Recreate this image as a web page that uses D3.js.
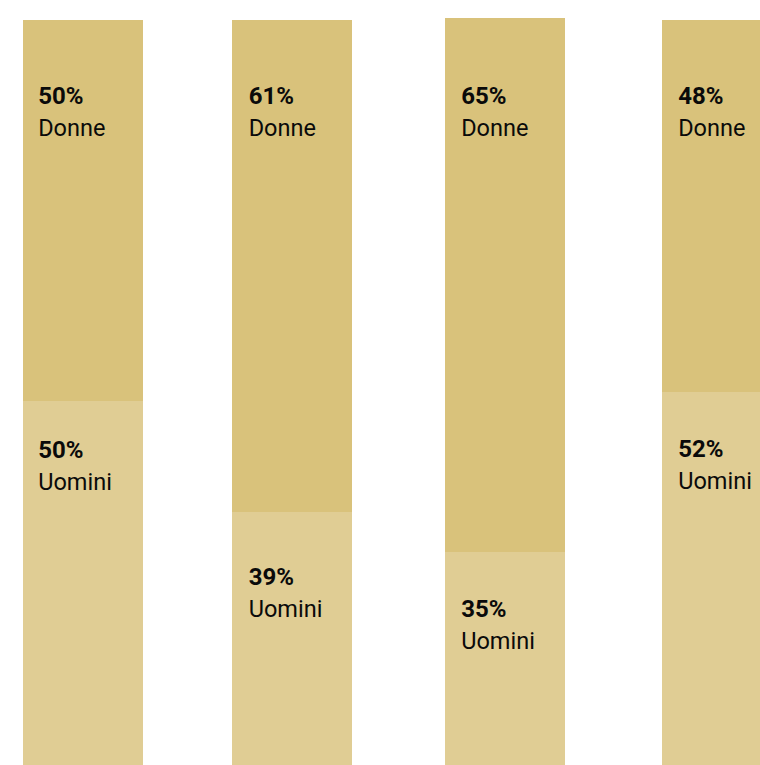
<!DOCTYPE html>
<html>
<head>
<meta charset="utf-8">
<script src="https://cdn.jsdelivr.net/npm/d3@7"></script>
<style>
  html, body { margin: 0; padding: 0; background: #ffffff; }
  svg { display: block; }
  text { font-family: Roboto, "Noto Sans", sans-serif; fill: #0a0a0a; }
</style>
</head>
<body>
<svg id="chart" width="760" height="765"></svg>
<script>
// Gender split per group (percent)
const categories = ["Gruppo 1", "Gruppo 2", "Gruppo 3", "Gruppo 4"];
const donne  = [50, 61, 65, 48];
const uomini = [50, 39, 35, 52];
const seriesLabels = ["Donne", "Uomini"];

// Layout: each column is its own small panel
const W = 760, H = 765, barW = 120;
const panelLeft   = [22.7, 231.7, 444.7, 661.7];
const panelTop    = [19.5, 19.5, 17.5, 19.7];
const panelBottom = [781.5, 826.5, 839.5, 795.7];
const lowerLabelOffset = [57, 73, 65, 65];
const labelInset = [15.5, 17, 16.5, 16.5];
const upperLabelY = 104;
const colors = { Donne: "#d9c27b", Uomini: "#e0cd94" };

const svg = d3.select("#chart");

const x = d3.scaleOrdinal().domain(categories).range(panelLeft);

const rows = categories.map((c, i) => ({
  cat: c, i,
  parts: [
    { key: "Donne",  v0: 0,         v1: donne[i],             val: donne[i] },
    { key: "Uomini", v0: donne[i],  v1: donne[i] + uomini[i], val: uomini[i] }
  ],
  y: d3.scaleLinear().domain([0, 100]).range([panelTop[i], panelBottom[i]]).interpolate(d3.interpolateRound)
}));

const g = svg.selectAll("g.col").data(rows).join("g")
  .attr("class", "col")
  .attr("transform", d => `translate(${x(d.cat)},0)`);

g.selectAll("rect").data(d => d.parts.map(p => ({ ...p, y: d.y })))
  .join("rect")
  .attr("x", 0)
  .attr("width", barW)
  .attr("y", p => p.y(p.v0))
  .attr("height", p => p.y(p.v1) - p.y(p.v0))
  .attr("shape-rendering", "crispEdges")
  .attr("fill", p => colors[p.key]);

g.each(function (d) {
  const sel = d3.select(this);
  d.parts.forEach((p, k) => {
    const base = k === 0 ? upperLabelY : d.y(p.v0) + lowerLabelOffset[d.i];
    sel.append("text")
      .attr("x", labelInset[d.i]).attr("y", base)
      .style("font-size", "24px").style("font-weight", "700")
      .text(`${p.val}%`);
    sel.append("text")
      .attr("x", labelInset[d.i]).attr("y", base + 31.5)
      .style("font-size", "23.5px").style("font-weight", "400")
      .text(seriesLabels[k]);
  });
});
</script>
</body>
</html>
